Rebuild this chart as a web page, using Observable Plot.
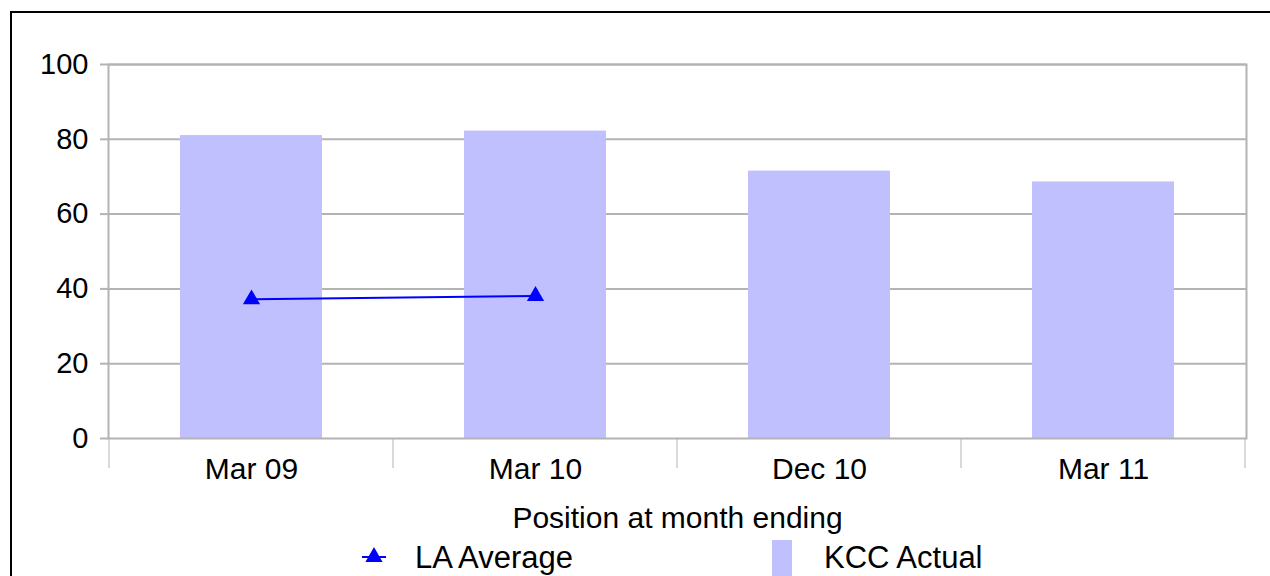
<!DOCTYPE html>
<html><head><meta charset="utf-8">
<script src="https://cdn.jsdelivr.net/npm/d3@7"></script>
<script src="https://cdn.jsdelivr.net/npm/@observablehq/plot@0.6"></script>
<style>
body{margin:0;background:#fff;font-family:"Liberation Sans",Arial,sans-serif;overflow:hidden;width:1270px;height:576px;position:relative}
#frame{position:absolute;left:10px;top:11px;width:1300px;height:700px;border:2px solid #000;box-sizing:border-box}
#chart{position:absolute;left:0;top:0}
#legend{position:absolute;left:0;top:540px;width:1270px;height:36px;font-size:31px;color:#000}
#legend .item{position:absolute;top:0;height:36px;display:flex;align-items:center}
</style></head><body>
<div id="frame"></div>
<div id="chart"></div>
<div id="legend"></div>
<script>
const categories = ["Mar 09", "Mar 10", "Dec 10", "Mar 11"];
const kccActual = [81.0, 82.2, 71.5, 68.6];
const laAverage = [37.2, 38.1, null, null];
const yTicks = [0, 20, 40, 60, 80, 100];
const seriesNames = ["LA Average", "KCC Actual"];
const xLabel = "Position at month ending";

const bars = categories.map((c, i) => ({cat: c, value: kccActual[i]}));
const line = categories.map((c, i) => ({cat: c, value: laAverage[i]})).filter(d => d.value != null);

const grid = "#b3b3b3";
const font = "'Liberation Sans', Arial, sans-serif";

const plot = Plot.plot({
  width: 1270, height: 540,
  marginLeft: 108, marginRight: 24, marginTop: 64, marginBottom: 102,
  style: {fontFamily: font, fontSize: "30px", background: "transparent", color: "#000"},
  x: {domain: categories, paddingInner: 0.5, paddingOuter: 0.25},
  y: {domain: [0, 100]},
  marks: [
    Plot.ruleY(yTicks.slice(1), {stroke: grid, strokeWidth: 2}),
    Plot.barY(bars, {x: "cat", y: "value", fill: "#c0c0ff"}),
    Plot.frame({stroke: grid, strokeWidth: 2}),
    Plot.axisY(yTicks, {tickSize: 8, tickPadding: 12, stroke: grid, strokeWidth: 2, fill: "#000", fontSize: 29, label: null}),
    Plot.axisX({tickSize: 0, tickPadding: 19, fill: "#000", fontSize: 30, label: xLabel, labelAnchor: "center", labelOffset: 89}),
    Plot.line(line, {x: "cat", y: "value", stroke: "#0000ff", strokeWidth: 2}),
    Plot.dot(line, {x: "cat", y: "value", symbol: "triangle", r: 6.4, fill: "#0000ff", stroke: "none"})
  ]
});

// category boundary ticks below the axis, from the library's x scale
const xs = plot.scale("x"), ys = plot.scale("y");
const gap = (xs.step - xs.bandwidth) / 2;
const bounds = categories.map(c => xs.apply(c) - gap);
bounds.push(xs.apply(categories[categories.length - 1]) + xs.bandwidth + gap);
const y0 = ys.apply(0);
d3.select(plot).append("g")
  .selectAll("line").data(bounds).join("line")
  .attr("x1", d => d).attr("x2", d => d)
  .attr("y1", y0).attr("y2", y0 + 30)
  .attr("stroke", grid).attr("stroke-width", 1);

document.getElementById("chart").appendChild(plot);

// legend
const legend = d3.select("#legend");
const it1 = legend.append("div").attr("class", "item").style("left", "362px");
const s1 = it1.append("svg").attr("width", 24).attr("height", 36);
s1.append("line").attr("x1", 0).attr("x2", 24).attr("y1", 17).attr("y2", 17).attr("stroke", "#0000ff").attr("stroke-width", 2);
s1.append("path").attr("transform", "translate(12,17)").attr("d", d3.symbol(d3.symbolTriangle, Math.PI * 6.4 * 6.4)()).attr("fill", "#0000ff");
it1.append("span").style("margin-left", "29px").text(seriesNames[0]);

const it2 = legend.append("div").attr("class", "item").style("left", "772px");
it2.append("div").style("width", "20px").style("height", "36px").style("background", "#c0c0ff");
it2.append("span").style("margin-left", "32px").text(seriesNames[1]);
</script>
</body></html>
